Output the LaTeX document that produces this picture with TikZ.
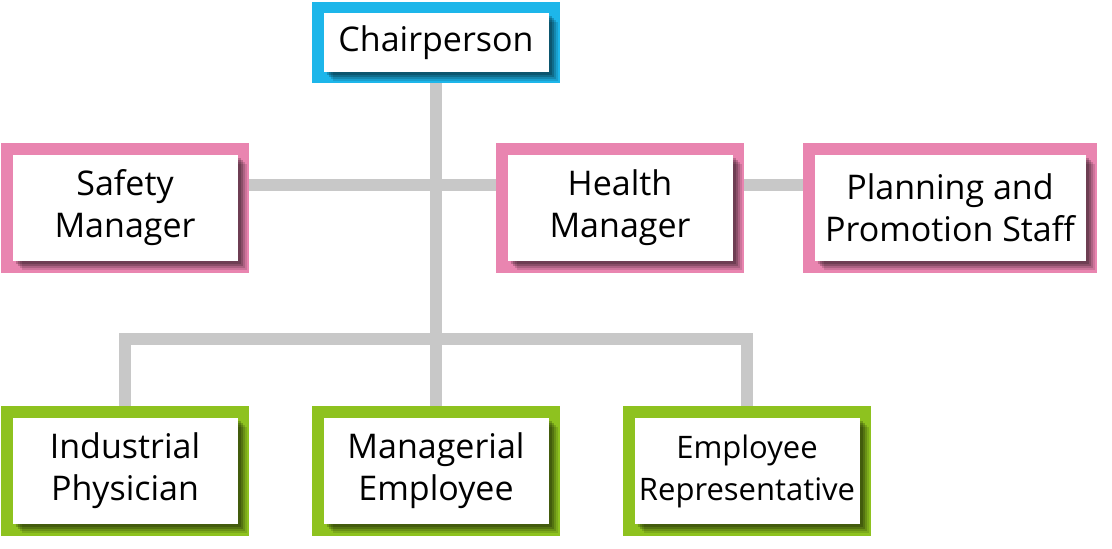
\documentclass[tikz,border=0pt]{standalone}
\usepackage{fontspec}
\setmainfont{Open Sans}
\usetikzlibrary{shadows}

\definecolor{chairblue}{RGB}{29,182,234}
\definecolor{mgrpink}{RGB}{233,133,176}
\definecolor{staffgreen}{RGB}{142,194,31}
\definecolor{linkgray}{RGB}{200,200,200}

\tikzset{
  frame/.style={fill=#1, inner sep=0pt, minimum width=124pt, minimum height=65pt},
  card/.style={fill=white, inner sep=0pt, align=center,
    minimum width=112.5pt, minimum height=53pt,
    font=\fontsize{17}{21}\selectfont,
    drop shadow={shadow xshift=4.5pt, shadow yshift=-4.5pt, fill=black, opacity=0.12},
    drop shadow={shadow xshift=3.5pt, shadow yshift=-3.5pt, fill=black, opacity=0.15},
    drop shadow={shadow xshift=2.5pt, shadow yshift=-2.5pt, fill=black, opacity=0.2},
    drop shadow={shadow xshift=1.5pt, shadow yshift=-1.5pt, fill=black, opacity=0.2}},
  link/.style={draw=linkgray, line width=6pt},
}

\begin{document}
\begin{tikzpicture}[x=0.5pt, y=-0.5pt]

\useasboundingbox (0,0) rectangle (1112,549);

% Top
\node[frame=chairblue, minimum height=40.5pt] (chair) at (436,42.5) {};
\node[card, minimum height=29.5pt] (chair-in) at (chair) {Chairperson};

% Middle row
\node[frame=mgrpink] (safety) at (125,208) {};
\node[card] (safety-in) at (safety) {Safety\\Manager};

\node[frame=mgrpink] (health) at (620,208) {};
\node[card] (health-in) at (health) {Health\\Manager};

\node[frame=mgrpink, minimum width=147pt] (planning) at (950,208) {};
\node[card, minimum width=135.5pt] (planning-in) at (planning) {Planning and\\Promotion Staff};

% Bottom row
\node[frame=staffgreen] (physician) at (125,471) {};
\node[card] (physician-in) at (physician) {Industrial\\Physician};

\node[frame=staffgreen] (managerial) at (436,471) {};
\node[card] (managerial-in) at (managerial) {Managerial\\Employee};

\node[frame=staffgreen] (representative) at (747,471) {};
\node[card, font=\fontsize{15.5}{21}\selectfont] (representative-in) at (representative) {Employee\\Representative};

% Connectors
\coordinate (bus) at (436,339);
\coordinate (mid) at (436,185);

\draw[link] (chair.south) -- (bus);
\draw[link] (safety.east |- mid) -- (health.west |- mid);
\draw[link] (health.east |- mid) -- (planning.west |- mid);
\draw[link] (physician.north) -- (physician.north |- bus)
  -- (representative.north |- bus) -- (representative.north);
\draw[link] (bus) -- (managerial.north);

\end{tikzpicture}
\end{document}
